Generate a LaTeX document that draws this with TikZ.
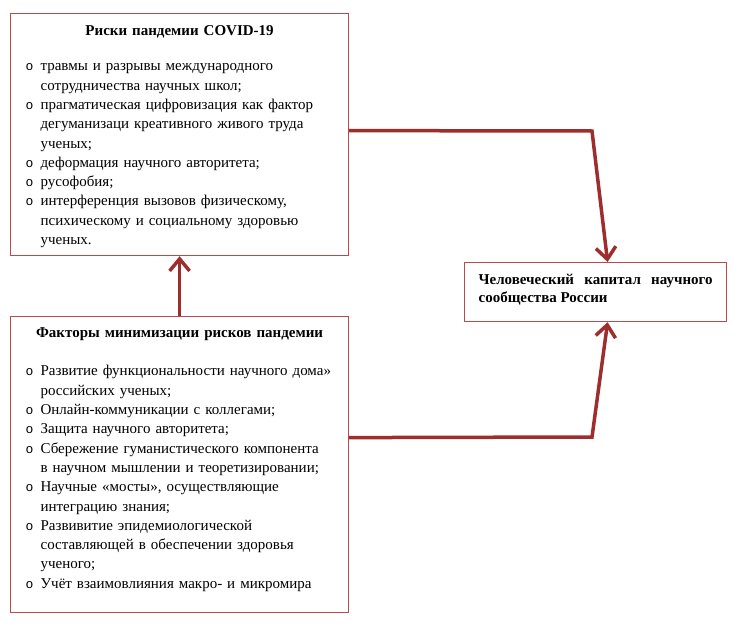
\documentclass[tikz,border=0pt]{standalone}
\usepackage{fontspec}
\setmainfont{Liberation Serif}
\newfontfamily\bulletfont{Liberation Mono}
\usepackage{enumitem}
\usetikzlibrary{arrows.meta}

\definecolor{boxred}{RGB}{184,74,74}
\definecolor{linkred}{RGB}{158,46,46}

\setlist[itemize]{label={\bulletfont\fontsize{13}{13}\selectfont o}, align=left,
  leftmargin=15pt, labelwidth=11pt, labelsep=4pt, labelindent=0pt,
  itemsep=0pt, parsep=0pt, topsep=0pt, partopsep=0pt}

\begin{document}
\begin{tikzpicture}[x=1pt, y=-1pt,
  card/.style={draw=boxred, line width=1.2pt, anchor=north west,
    inner xsep=15pt, inner ysep=0pt, text width=308pt,
    font=\fontsize{15}{19.3}\selectfont},
  link/.style={draw=linkred, line width=3.5pt,
    -{Straight Barb[length=12pt,width=20pt]}}]
  \useasboundingbox (0,0) rectangle (738,626);

  % risks box
  \node[card, text height=22pt, text depth=220pt] (risks) at (10,13) {%
    \setlength{\parskip}{0pt}%
    \centering\textbf{Риски пандемии COVID-19}\par\vspace{16pt}
    \raggedright
    \begin{itemize}
      \item травмы и разрывы международного\\ сотрудничества научных школ;
      \item прагматическая цифровизация как фактор\\ дегуманизаци креативного живого труда\\ ученых;
      \item деформация научного авторитета;
      \item русофобия;
      \item интерференция вызовов физическому,\\ психическому и социальному здоровью\\ ученых.
    \end{itemize}};

  % factors box
  \node[card, text height=21pt, text depth=275pt] (factors) at (10,316) {%
    \setlength{\parskip}{0pt}%
    \centering\textbf{Факторы минимизации рисков пандемии}\par\vspace{19pt}
    \raggedright
    \begin{itemize}
      \item Развитие функциональности научного дома»\\ российских ученых;
      \item Онлайн-коммуникации с коллегами;
      \item Защита научного авторитета;
      \item Сбережение гуманистического компонента\\ в научном мышлении и теоретизировании;
      \item Научные «мосты», осуществляющие\\ интеграцию знания;
      \item Развивитие эпидемиологической\\ составляющей в обеспечении здоровья\\ ученого;
      \item Учёт взаимовлияния макро- и микромира
    \end{itemize}};

  % capital box
  \node[draw=boxred, line width=1.2pt, anchor=north west, inner xsep=14pt,
    inner ysep=0pt, text width=234pt, text height=22pt, text depth=37pt,
    align=justify, font=\fontsize{15}{18}\selectfont\bfseries] (capital) at (464,262)
    {Человеческий капитал научного сообщества России};

  % connectors
  \coordinate (bendA) at (592,131);
  \coordinate (bendB) at (592,437);
  \draw[link] (factors.north) -- (risks.south);
  \draw[link] ([yshift=4pt]risks.east) -- (bendA) -- ([xshift=12pt]capital.north);
  \draw[link] ([yshift=27pt]factors.east) -- (bendB) -- ([xshift=12pt]capital.south);
\end{tikzpicture}
\end{document}
